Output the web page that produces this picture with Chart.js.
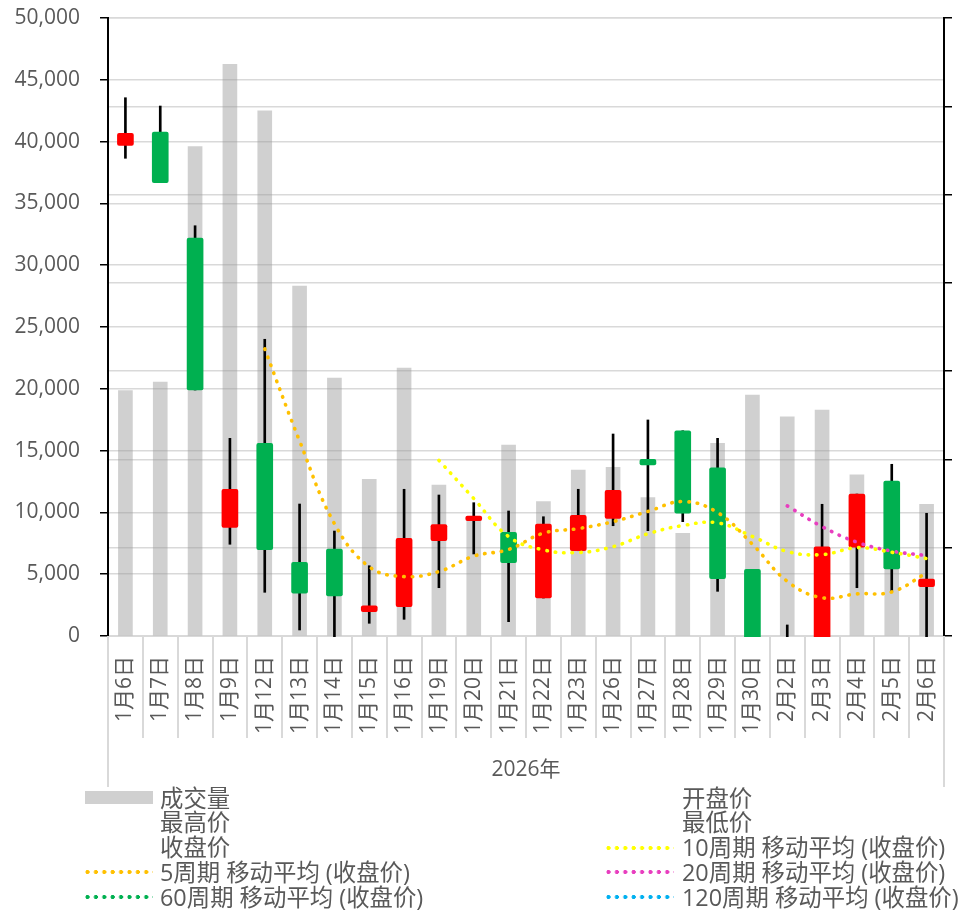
<!DOCTYPE html>
<html>
<head>
<meta charset="utf-8">
<script src="https://cdn.jsdelivr.net/npm/chart.js@4.4.1/dist/chart.umd.min.js"></script>
<style>
  body { margin: 0; background: #fff; }
  #wrap { position: relative; width: 960px; height: 915px; }
  .lg { position: absolute; font: 23.4px "Open Sans", "Noto Sans CJK SC", sans-serif; color: #595959; line-height: 25px; white-space: nowrap; }
  .sw { position: absolute; width: 68px; height: 6px; background-size: 8.4px 6px; background-repeat: repeat-x; }
</style>
</head>
<body>
<div id="wrap">
  <canvas id="c" width="960" height="915"></canvas>
</div>
<script>
// trading days
const dates = ['1月6日', '1月7日', '1月8日', '1月9日', '1月12日', '1月13日', '1月14日', '1月15日',
  '1月16日', '1月19日', '1月20日', '1月21日', '1月22日', '1月23日', '1月26日', '1月27日',
  '1月28日', '1月29日', '1月30日', '2月2日', '2月3日', '2月4日', '2月5日', '2月6日'];
const groupLabel = '2026年';

// 成交量 (left axis)
const volume = [19850, 20550, 39590, 46250, 42480, 28320, 20870, 12680,
  21680, 12220, 9630, 15450, 10870, 13430, 13650, 11190,
  8310, 15590, 19500, 17740, 18280, 13030, 9000, 10650];

// prices (right axis, unlabeled)
const openP  = [75.58, 77.09, 65.08, 32.31, 41.83, 28.35, 29.85, 22.75, 23.32, 30.79, 33.06, 31.75,
  24.30, 29.66, 33.33, 40.01, 43.25, 39.06, 27.55, 18.87, 16.60, 30.05, 37.56, 25.58];
const highP  = [80.97, 80.03, 66.47, 42.39, 53.61, 34.95, 31.89, 27.96, 36.62, 35.97, 35.10, 34.16,
  33.51, 36.62, 42.88, 44.47, 43.25, 42.39, 27.55, 21.25, 34.92, 36.08, 39.45, 33.90];
const lowP   = [74.11, 71.35, 47.86, 30.39, 24.95, 20.68, 19.77, 21.44, 21.89, 25.47, 29.29, 21.62,
  24.30, 29.66, 32.49, 31.93, 32.95, 25.06, 14.34, 13.77, 15.47, 25.47, 25.02, 18.87];
const closeP = [76.94, 71.35, 47.86, 36.62, 29.78, 24.84, 24.53, 23.43, 31.07, 32.61, 33.59, 28.30,
  32.69, 33.67, 36.50, 39.37, 33.90, 26.49, 15.70, 15.47, 30.11, 36.08, 27.59, 26.46];

// moving average trend lines (收盘价)
const ma5 = [null, null, null, null, 52.51, 42.09, 32.73, 27.84, 26.73, 27.30, 29.05, 29.80,
  31.65, 32.17, 32.95, 34.11, 35.23, 33.99, 30.39, 26.19, 24.33, 24.77, 24.99, 27.14];
const ma10 = [null, null, null, null, null, null, null, null, null, 39.90, 35.57, 31.26,
  29.75, 29.45, 30.12, 31.58, 32.51, 32.82, 31.28, 29.57, 29.22, 30.00, 29.49, 28.77];
const ma20 = [null, null, null, null, null, null, null, null, null, null, null, null,
  null, null, null, null, null, null, null, 34.74, 32.39, 30.63, 29.62, 29.11];

const FONT = '"Open Sans", "Noto Sans CJK SC", sans-serif';
const TXT = '#595959';
const GRID = '#d9d9d9';
const UP = '#ff0000', DOWN = '#00b050';

const bodies = openP.map((o, i) => [o, closeP[i]]);
const wicks = lowP.map((l, i) => [l, highP[i]]);
const bodyColors = openP.map((o, i) => closeP[i] >= o ? UP : DOWN);

// category separators under the axis + group label
const multiLevel = {
  id: 'multiLevel',
  afterDraw(chart) {
    const ctx = chart.ctx, area = chart.chartArea;
    const n = dates.length;
    const w = (area.right - area.left) / n;
    ctx.save();
    ctx.strokeStyle = GRID;
    ctx.lineWidth = 2;
    for (let i = 0; i <= n; i++) {
      const px = Math.round(area.left + i * w);
      ctx.beginPath();
      ctx.moveTo(px, area.bottom);
      ctx.lineTo(px, (i === 0 || i === n) ? area.bottom + 151 : area.bottom + 102);
      ctx.stroke();
    }
    ctx.fillStyle = TXT;
    ctx.font = '21px ' + FONT;
    ctx.textAlign = 'center';
    ctx.textBaseline = 'middle';
    ctx.fillText(groupLabel, (area.left + area.right) / 2, area.bottom + 134);
    ctx.restore();
  }
};

const lineDs = (label, data, color) => ({
  type: 'line', label, data, yAxisID: 'y2',
  borderColor: color, borderWidth: 3.6, borderDash: [0.5, 8], borderCapStyle: 'round',
  pointRadius: 0, tension: 0.4, fill: false, order: 0
});

new Chart(document.getElementById('c'), {
  data: {
    labels: dates,
    datasets: [
      lineDs('5周期 移动平均 (收盘价)', ma5, '#ffc000'),
      lineDs('10周期 移动平均 (收盘价)', ma10, '#ffff00'),
      lineDs('20周期 移动平均 (收盘价)', ma20, '#e83ebf'),
      { type: 'bar', label: '开盘价/收盘价', data: bodies, yAxisID: 'y2', backgroundColor: bodyColors,
        barThickness: 16, grouped: false, clip: 1, order: 1, borderRadius: 2, borderSkipped: false },
      { type: 'bar', label: '最高价/最低价', data: wicks, yAxisID: 'y2', backgroundColor: '#000',
        barThickness: 2, grouped: false, clip: 1, order: 2 },
      { type: 'bar', label: '成交量', data: volume, yAxisID: 'y', backgroundColor: 'rgba(150,150,150,0.45)',
        barThickness: 14, grouped: false, order: 3 }
    ]
  },
  options: {
    responsive: false,
    devicePixelRatio: 1,
    animation: false,
    layout: { padding: { top: 18, left: 0, right: 0, bottom: 129 } },
    plugins: { legend: { display: false }, tooltip: { enabled: false } },
    scales: {
      x: {
        offset: true,
        grid: { display: false, drawTicks: false },
        border: { color: GRID, width: 2 },
        ticks: { minRotation: 90, maxRotation: 90, autoSkip: false, color: TXT,
          font: { family: FONT, size: 21 }, padding: 20 },
        afterFit(s) { s.height = 150; s.paddingLeft = 0; s.paddingRight = 0; }
      },
      y: {
        position: 'left', min: 0, max: 50000,
        ticks: { stepSize: 5000, color: TXT, font: { family: FONT, size: 21 }, padding: 20 },
        grid: { color: GRID, lineWidth: 1.5, tickColor: '#000', tickLength: 8 },
        border: { color: '#000', width: 2 },
        afterFit(s) { s.width = 108; s.paddingTop = 0; s.paddingBottom = 0; }
      },
      y2: {
        position: 'right', min: 20, max: 90,
        ticks: { stepSize: 10, display: false },
        grid: { color: GRID, lineWidth: 1.5, tickColor: '#000', tickLength: 8 },
        border: { color: '#000', width: 2 },
        afterFit(s) { s.width = 16; s.paddingTop = 0; s.paddingBottom = 0; }
      }
    }
  },
  plugins: [multiLevel]
});

// legend (Excel style, two columns)
const legendItems = [
  { text: '成交量', col: 0, row: 0, swatch: 'bar', color: '#d0d0d0' },
  { text: '开盘价', col: 1, row: 0 },
  { text: '最高价', col: 0, row: 1 },
  { text: '最低价', col: 1, row: 1 },
  { text: '收盘价', col: 0, row: 2 },
  { text: '10周期 移动平均 (收盘价)', col: 1, row: 2, swatch: 'dot', color: '#ffff00' },
  { text: '5周期 移动平均 (收盘价)', col: 0, row: 3, swatch: 'dot', color: '#ffc000' },
  { text: '20周期 移动平均 (收盘价)', col: 1, row: 3, swatch: 'dot', color: '#e83ebf' },
  { text: '60周期 移动平均 (收盘价)', col: 0, row: 4, swatch: 'dot', color: '#00b050' },
  { text: '120周期 移动平均 (收盘价)', col: 1, row: 4, swatch: 'dot', color: '#00b0f0' }
];
const wrap = document.getElementById('wrap');
const colX = [[85, 160], [606, 682]];
legendItems.forEach(it => {
  const cy = 798 + it.row * 24.8;
  const t = document.createElement('div');
  t.className = 'lg';
  t.textContent = it.text;
  t.style.left = colX[it.col][1] + 'px';
  t.style.top = (cy - 12.5) + 'px';
  wrap.appendChild(t);
  if (it.swatch === 'bar') {
    const s = document.createElement('div');
    s.style.cssText = `position:absolute;left:${colX[it.col][0]}px;top:${cy - 7}px;width:68px;height:13px;background:${it.color}`;
    wrap.appendChild(s);
  } else if (it.swatch === 'dot') {
    const s = document.createElement('div');
    s.className = 'sw';
    s.style.left = colX[it.col][0] + 'px';
    s.style.top = (cy - 3) + 'px';
    s.style.backgroundImage = `radial-gradient(circle at 2.5px 3px, ${it.color} 1.8px, transparent 2.3px)`;
    wrap.appendChild(s);
  }
});
</script>
</body>
</html>
